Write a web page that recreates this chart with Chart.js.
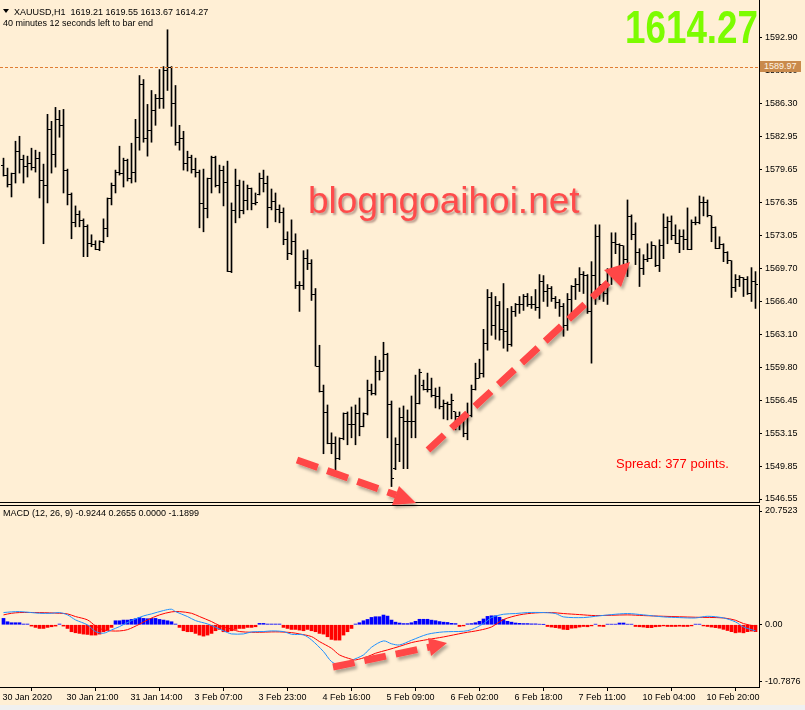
<!DOCTYPE html>
<html>
<head>
<meta charset="utf-8">
<script src="https://cdn.jsdelivr.net/npm/chart.js@4.4.0/dist/chart.umd.min.js"></script>
<style>
html, body { margin: 0; padding: 0; background: #f0f0f0; }
#wrap { position: relative; width: 805px; height: 710px; overflow: hidden; font-family: 'Liberation Sans', Arial, sans-serif; }
canvas { position: absolute; left: 0; background: #ffefd5; }
#priceChart { top: 0; }
#macdChart { top: 503px; }
.txt { position: absolute; white-space: nowrap; font-size: 9px; line-height: 11px; color: #000; }
#tri { position: absolute; left: 3px; top: 9px; width: 0; height: 0; border-left: 3px solid transparent; border-right: 3px solid transparent; border-top: 4px solid #000; }
#lvlBox { position: absolute; left: 760px; top: 61px; width: 41px; height: 11px; background: #c98a4c; color: #fff4e4; font-size: 9px; line-height: 11px; padding-left: 4px; box-sizing: border-box; }
#bigPrice { position: absolute; left: 625px; top: 4px; font-size: 46px; line-height: 46px; font-weight: bold; color: #7cfc00; transform: scaleX(0.8); transform-origin: left top; }
#mark { position: absolute; left: 308px; top: 182px; font-size: 37px; line-height: 37px; color: #ff4b4b; text-shadow: 2px 2px 2px rgba(110, 60, 60, 0.45); }
#spread { position: absolute; left: 616px; top: 457px; font-size: 13px; line-height: 13px; color: #ff0000; }
svg { position: absolute; left: 0; top: 0; pointer-events: none; }
</style>
</head>
<body>
<div id="wrap">
  <canvas id="priceChart" width="805" height="504"></canvas>
  <canvas id="macdChart" width="805" height="202"></canvas>

  <div id="tri"></div>
  <div class="txt" style="left:14px;top:7px;">XAUUSD,H1&nbsp; 1619.21 1619.55 1613.67 1614.27</div>
  <div class="txt" style="left:3px;top:18px;">40 minutes 12 seconds left to bar end</div>
  <div class="txt" style="left:3px;top:508px;">MACD (12, 26, 9) -0.9244 0.2655 0.0000 -1.1899</div>
  <div id="lvlBox">1589.97</div>
  <div id="bigPrice">1614.27</div>
  <div id="mark">blogngoaihoi.net</div>
  <div id="spread">Spread: 377 points.</div>

  <svg width="805" height="710">
    <defs>
      <filter id="sh" x="-20%" y="-20%" width="140%" height="140%">
        <feDropShadow dx="2" dy="3" stdDeviation="1.5" flood-color="#000" flood-opacity="0.3"/>
      </filter>
    </defs>
    <g filter="url(#sh)" stroke="#ff4646" fill="#ff4646">
      <line x1="297" y1="460" x2="396" y2="495" stroke-width="7" stroke-dasharray="22 10" fill="none"/>
      <polygon points="416,503 392,505 399,486" stroke="none"/>
      <line x1="428" y1="450" x2="612" y2="279" stroke-width="7" stroke-dasharray="22 10" fill="none"/>
      <polygon points="630,262 621,287 604,270" stroke="none"/>
      <line x1="333" y1="667" x2="430" y2="647" stroke-width="7" stroke-dasharray="22 10" fill="none"/>
      <polygon points="447,643 431,656 428,638" stroke="none"/>
    </g>
  </svg>
</div>

<script>
// ---------- data (H1 bars, left to right) ----------

const opens = [
  1580.1, 1579.1, 1578.2, 1579.3, 1581.5, 1580.7, 1580.0, 1580.3, 1579.9, 1580.8,
  1578.6, 1578.1, 1583.7, 1581.2, 1584.7, 1584.1, 1579.6, 1577.1, 1574.3, 1575.1,
  1574.5, 1573.9, 1572.2, 1572.1, 1571.6, 1572.4, 1573.7, 1576.7, 1578.1, 1579.4,
  1579.3, 1580.6, 1578.8, 1579.4, 1582.9, 1588.2, 1582.8, 1583.6, 1585.6, 1586.8,
  1586.8, 1589.6, 1589.9, 1586.3, 1582.4, 1582.8, 1580.3, 1580.9, 1579.7, 1579.4,
  1576.2, 1575.7, 1578.8, 1580.9, 1578.1, 1579.6, 1578.4, 1569.4, 1575.5, 1578.1,
  1575.5, 1576.5, 1577.7, 1576.2, 1577.1, 1578.8, 1578.3, 1575.8, 1576.4, 1575.6,
  1575.3, 1572.6, 1571.2, 1572.4, 1568.0, 1568.0, 1570.7, 1570.2, 1567.1, 1559.9,
  1557.4, 1555.2, 1552.1, 1552.1, 1550.6, 1552.6, 1555.1, 1554.0, 1554.0, 1555.1,
  1553.8, 1555.1, 1557.5, 1557.2, 1559.4, 1559.4, 1561.1, 1556.0, 1549.6, 1552.0,
  1554.7, 1554.3, 1554.3, 1554.3, 1556.1, 1558.0, 1557.6, 1557.6, 1557.0, 1556.9,
  1555.8, 1556.1, 1556.0, 1555.3, 1554.8, 1554.5, 1553.1, 1554.9, 1557.6, 1558.7,
  1559.2, 1562.2, 1566.8, 1564.0, 1566.0, 1563.6, 1563.4, 1562.1, 1565.4, 1566.1,
  1566.1, 1566.9, 1566.1, 1566.1, 1565.8, 1568.4, 1567.4, 1567.7, 1566.7, 1566.3,
  1565.9, 1564.0, 1566.6, 1567.9, 1568.1, 1569.1, 1569.0, 1565.4, 1569.0, 1572.9,
  1568.1, 1567.2, 1569.2, 1572.3, 1572.1, 1572.0, 1570.6, 1574.9, 1573.1, 1571.3,
  1569.7, 1570.6, 1570.7, 1572.0, 1570.0, 1572.0, 1573.8, 1574.4, 1573.0, 1572.2,
  1572.9, 1572.6, 1571.6, 1574.3, 1574.3, 1576.3, 1576.3, 1575.0, 1573.8, 1571.7,
  1572.1, 1571.3, 1570.5, 1567.8, 1568.6, 1568.8, 1568.6, 1567.2, 1568.4
];

const highs = [
  1580.8, 1579.8, 1579.3, 1582.5, 1583.0, 1581.1, 1581.0, 1581.8, 1581.6, 1581.4,
  1580.2, 1585.2, 1584.5, 1585.9, 1585.6, 1585.7, 1579.7, 1577.3, 1576.0, 1575.5,
  1574.7, 1574.1, 1573.1, 1572.5, 1572.5, 1574.7, 1576.8, 1578.3, 1579.6, 1582.0,
  1580.8, 1580.7, 1582.3, 1584.7, 1589.1, 1588.7, 1586.2, 1587.6, 1587.2, 1589.7,
  1590.0, 1593.7, 1590.0, 1588.1, 1584.1, 1583.5, 1581.5, 1581.1, 1580.8, 1579.6,
  1579.7, 1578.8, 1581.0, 1581.0, 1580.1, 1580.0, 1580.5, 1576.3, 1579.7, 1578.6,
  1578.5, 1578.1, 1577.8, 1577.3, 1579.3, 1579.6, 1579.0, 1577.7, 1577.3, 1576.1,
  1575.8, 1573.4, 1574.6, 1573.2, 1568.4, 1571.5, 1571.6, 1570.6, 1567.7, 1562.0,
  1558.0, 1556.0, 1553.2, 1552.8, 1552.7, 1555.2, 1555.3, 1555.8, 1556.0, 1556.7,
  1555.2, 1558.5, 1558.1, 1560.9, 1560.5, 1562.3, 1561.2, 1556.4, 1552.7, 1555.7,
  1555.9, 1555.5, 1556.9, 1559.0, 1559.6, 1558.5, 1559.2, 1558.7, 1557.7, 1557.8,
  1556.5, 1556.3, 1557.1, 1555.3, 1555.3, 1554.5, 1556.2, 1558.0, 1560.2, 1560.6,
  1563.6, 1567.6, 1567.3, 1566.9, 1566.4, 1568.2, 1565.7, 1565.9, 1566.2, 1566.9,
  1567.1, 1567.2, 1566.9, 1567.6, 1569.1, 1569.0, 1568.1, 1567.9, 1566.9, 1566.6,
  1566.2, 1567.2, 1568.0, 1568.7, 1569.8, 1569.4, 1569.1, 1570.4, 1574.1, 1574.1,
  1568.1, 1569.7, 1573.3, 1573.3, 1572.2, 1572.0, 1576.6, 1575.1, 1574.3, 1571.7,
  1571.1, 1572.2, 1572.4, 1572.0, 1572.6, 1575.2, 1574.9, 1575.0, 1574.1, 1573.6,
  1573.6, 1575.8, 1574.6, 1574.9, 1577.0, 1576.9, 1576.6, 1575.0, 1573.9, 1572.9,
  1572.2, 1571.4, 1570.5, 1569.1, 1569.0, 1568.8, 1568.9, 1569.8, 1569.4
];

const lows = [
  1579.0, 1577.9, 1576.9, 1578.3, 1579.3, 1578.3, 1578.9, 1579.6, 1579.4, 1576.8,
  1572.2, 1576.3, 1579.3, 1579.9, 1582.9, 1577.3, 1576.1, 1572.7, 1573.9, 1573.9,
  1570.9, 1570.9, 1571.9, 1571.6, 1571.5, 1572.3, 1572.9, 1576.1, 1577.3, 1579.1,
  1577.9, 1578.5, 1578.3, 1578.4, 1581.6, 1582.4, 1581.0, 1582.4, 1584.1, 1585.8,
  1585.8, 1587.6, 1584.0, 1582.1, 1581.6, 1579.6, 1579.5, 1579.3, 1578.9, 1573.8,
  1573.4, 1574.8, 1577.3, 1577.9, 1577.3, 1576.0, 1569.4, 1569.3, 1574.3, 1574.8,
  1575.2, 1575.6, 1575.6, 1576.1, 1577.1, 1577.4, 1573.8, 1575.6, 1574.4, 1574.3,
  1572.1, 1570.6, 1571.1, 1567.7, 1565.4, 1567.6, 1569.6, 1566.5, 1559.9, 1557.3,
  1551.1, 1552.1, 1551.1, 1549.5, 1550.5, 1552.5, 1552.0, 1552.7, 1552.0, 1552.9,
  1553.8, 1555.0, 1557.0, 1557.0, 1558.5, 1559.4, 1552.7, 1547.8, 1549.5, 1550.3,
  1549.6, 1549.6, 1552.7, 1552.7, 1556.1, 1557.5, 1557.3, 1556.8, 1555.7, 1555.6,
  1554.6, 1554.5, 1554.6, 1553.5, 1553.5, 1552.8, 1552.5, 1554.8, 1557.5, 1558.7,
  1558.8, 1561.5, 1563.0, 1562.6, 1562.5, 1561.7, 1561.4, 1561.9, 1564.9, 1565.2,
  1565.5, 1565.9, 1565.7, 1565.5, 1564.7, 1566.4, 1565.9, 1566.4, 1565.7, 1564.9,
  1562.9, 1563.5, 1565.0, 1566.6, 1567.4, 1567.2, 1565.2, 1560.2, 1566.1, 1566.6,
  1566.4, 1566.1, 1568.1, 1571.2, 1569.6, 1569.1, 1568.9, 1572.6, 1570.1, 1567.9,
  1569.1, 1570.4, 1570.7, 1569.9, 1569.4, 1570.7, 1572.2, 1572.6, 1572.2, 1571.3,
  1571.6, 1571.6, 1571.6, 1574.1, 1574.2, 1575.0, 1574.9, 1572.4, 1571.7, 1571.7,
  1570.4, 1570.2, 1566.8, 1567.4, 1567.9, 1566.9, 1567.1, 1566.4, 1565.7
];

const closes = [
  1579.1, 1578.2, 1579.3, 1581.5, 1580.7, 1580.0, 1580.3, 1579.9, 1580.8, 1578.6,
  1578.1, 1583.7, 1581.2, 1584.7, 1584.1, 1579.6, 1577.1, 1574.3, 1575.1, 1574.5,
  1573.9, 1572.2, 1572.1, 1571.6, 1572.4, 1573.7, 1576.7, 1578.1, 1579.4, 1579.3,
  1580.6, 1578.8, 1579.4, 1582.9, 1588.2, 1582.8, 1583.6, 1585.6, 1586.8, 1586.8,
  1589.6, 1589.9, 1586.3, 1582.4, 1582.8, 1580.3, 1580.9, 1579.7, 1579.4, 1576.2,
  1575.7, 1578.8, 1580.9, 1578.1, 1579.6, 1578.4, 1569.4, 1575.5, 1578.1, 1575.5,
  1576.5, 1577.7, 1576.2, 1576.3, 1578.8, 1578.3, 1575.8, 1576.4, 1575.6, 1575.3,
  1572.6, 1571.2, 1572.4, 1568.0, 1568.0, 1570.7, 1570.2, 1567.1, 1559.9, 1557.4,
  1555.2, 1552.1, 1552.1, 1550.6, 1552.6, 1555.1, 1554.0, 1554.0, 1555.1, 1553.8,
  1555.1, 1557.5, 1557.2, 1559.4, 1559.4, 1561.1, 1556.0, 1548.6, 1552.0, 1554.7,
  1554.3, 1554.3, 1554.3, 1556.1, 1559.3, 1557.6, 1557.6, 1557.0, 1556.9, 1555.8,
  1556.1, 1556.0, 1556.4, 1554.8, 1554.5, 1553.1, 1554.9, 1557.6, 1558.7, 1559.2,
  1562.2, 1566.8, 1564.0, 1566.0, 1563.6, 1563.4, 1562.1, 1565.4, 1566.1, 1566.1,
  1566.9, 1566.1, 1566.1, 1565.8, 1568.4, 1567.4, 1567.7, 1566.7, 1566.3, 1565.9,
  1564.0, 1566.6, 1567.9, 1568.1, 1569.1, 1569.0, 1565.4, 1569.0, 1572.9, 1568.1,
  1567.2, 1569.2, 1572.3, 1572.1, 1572.0, 1570.6, 1574.9, 1573.1, 1571.3, 1569.7,
  1570.6, 1570.7, 1572.0, 1570.0, 1572.0, 1573.8, 1574.4, 1573.0, 1572.2, 1572.9,
  1572.6, 1571.6, 1574.3, 1574.3, 1576.3, 1576.3, 1575.0, 1573.8, 1571.7, 1572.1,
  1571.3, 1570.5, 1567.8, 1568.6, 1568.8, 1568.6, 1567.2, 1568.4, 1568.1
];

// MACD histogram, one value per bar
const macdHist = [
  1.10, 0.52, 0.35, 0.35, 0.35, 0.12, 0.12, -0.23, -0.46, -0.64,
  -0.64, -0.46, -0.35, -0.23, 0.12, -0.23, -0.64, -1.21, -1.39, -1.50,
  -1.62, -1.68, -1.79, -1.79, -1.62, -1.21, -0.92, -0.46, 0.69, 0.69,
  0.81, 0.81, 0.92, 1.04, 1.27, 1.10, 1.04, 1.10, 1.10, 0.92,
  0.81, 0.69, 0.52, 0.12, -0.46, -1.04, -1.21, -1.21, -1.50, -1.79,
  -1.97, -1.79, -1.50, -1.04, -0.81, -1.21, -1.21, -1.04, -0.81, -0.64,
  -0.64, -0.46, -0.46, -0.35, 0.23, 0.23, 0.12, 0.12, 0.12, 0.12,
  -0.46, -0.64, -0.81, -0.81, -0.92, -1.04, -0.81, -1.04, -1.21, -1.50,
  -1.62, -2.08, -2.54, -2.66, -2.66, -1.79, -1.21, -0.64, 0.12, 0.35,
  0.69, 0.92, 1.27, 1.39, 1.39, 1.68, 1.50, 0.81, 0.45, 0.30,
  0.20, 0.20, 0.35, 0.60, 0.95, 0.95, 0.95, 0.80, 0.70, 0.55,
  0.45, 0.40, 0.25, 0.20, -0.30, -0.20, 0.15, 0.20, 0.35, 0.60,
  1.00, 1.45, 1.55, 1.55, 1.30, 0.90, 0.60, 0.45, 0.30, 0.25,
  0.20, 0.20, 0.15, 0.15, 0.10, 0.05, -0.30, -0.40, -0.50, -0.60,
  -0.80, -0.85, -0.60, -0.55, -0.40, -0.30, -0.35, -0.20, 0.10, -0.25,
  -0.30, 0.10, 0.10, 0.10, 0.30, 0.30, 0.10, 0.10, -0.30, -0.35,
  -0.40, -0.50, -0.50, -0.35, -0.30, -0.20, -0.30, -0.30, -0.30, -0.25,
  -0.30, -0.30, -0.20, 0.10, 0.10, -0.20, -0.30, -0.40, -0.50, -0.60,
  -0.80, -1.00, -1.20, -1.40, -1.30, -1.40, -1.20, -1.10, -1.20
];

// MACD main line (blue) and signal line (red): [bar, value]
const macdMain = [
  [0, 2.11], [2, 2.23], [4, 2.28], [7, 2.11], [9, 1.99], [12, 1.99], [14, 2.11], [16, 1.71],
  [18, 0.84], [21, -0.03], [23, -1.18], [25, -1.47], [27, -0.90], [29, -0.32], [32, 0.72],
  [35, 1.53], [37, 1.88], [40, 2.46], [42, 2.69], [43, 2.28], [46, 1.42], [48, 0.72],
  [51, 0.14], [53, -0.43], [56, -1.36], [57, -1.59], [60, -1.59], [62, -1.24], [65, -1.18],
  [67, -1.07], [70, -1.18], [72, -1.65], [75, -1.76], [77, -2.63], [80, -4.65], [82, -6.39],
  [84, -6.97], [86, -6.79], [87, -6.21], [90, -5.23], [92, -3.90], [95, -2.80], [97, -3.30],
  [99, -3.50], [102, -2.69], [106, -1.65], [110, -1.24], [115, -1.13], [117, -0.84],
  [120, 0.20], [122, 1.24], [125, 1.82], [128, 1.94], [131, 2.11], [135, 2.11], [138, 1.94],
  [140, 1.36], [145, 1.24], [148, 1.47], [152, 1.76], [156, 1.94], [160, 1.71], [165, 1.36],
  [169, 1.24], [173, 1.18], [176, 1.47], [180, 1.18], [183, 0.49], [185, -0.38], [188, -1.07]
];

const macdSignal = [
  [0, 1.71], [2, 1.99], [4, 2.11], [9, 2.11], [14, 1.99], [16, 1.88], [18, 1.42], [21, 0.84],
  [23, -0.20], [25, -0.90], [27, -1.07], [29, -1.07], [31, -0.85], [34, 0.10], [36, 0.84],
  [39, 1.71], [42, 2.23], [44, 2.28], [47, 1.99], [49, 1.42], [52, 0.55], [54, -0.14],
  [57, -0.78], [59, -1.18], [62, -1.30], [64, -1.30], [67, -1.24], [69, -1.24], [72, -1.36],
  [74, -1.59], [77, -2.05], [79, -2.92], [82, -4.08], [84, -5.23], [87, -5.98], [88, -6.10],
  [91, -5.52], [93, -4.94], [96, -4.36], [99, -3.75], [102, -3.09], [106, -2.57], [110, -2.11],
  [115, -1.42], [119, -0.95], [122, -0.38], [125, 0.90], [129, 1.71], [133, 2.05], [137, 2.11],
  [140, 1.94], [144, 1.76], [148, 1.59], [156, 1.71], [160, 1.59], [165, 1.47], [173, 1.30],
  [180, 1.18], [183, 0.78], [185, 0.20], [188, -0.26]
];

const priceTicks = [
  1546.55, 1549.85, 1553.15, 1556.45, 1559.80, 1563.10, 1566.40, 1569.70,
  1573.05, 1576.35, 1579.65, 1582.95, 1586.30, 1589.60, 1592.90
];
const macdTicks = [-10.7876, 0, 20.7523];

const dateTickBars = [-1, 15, 31, 47, 63, 79, 95, 111, 127, 143, 159, 175];
const dateTickLabels = [
  '30 Jan 2020', '30 Jan 21:00', '31 Jan 14:00', '3 Feb 07:00', '3 Feb 23:00', '4 Feb 16:00',
  '5 Feb 09:00', '6 Feb 02:00', '6 Feb 18:00', '7 Feb 11:00', '10 Feb 04:00', '10 Feb 20:00'
];

const markLevel = 1589.97;

// ---------- charts ----------

Chart.defaults.font.family = "'Liberation Sans', Arial, sans-serif";
Chart.defaults.font.size = 9;
Chart.defaults.color = '#000';

// visible bar window, 4 px per bar
const xMin = -0.875, xMax = 188.875;

const ohlcTicks = {
    id: 'ohlcTicks',
    afterDatasetsDraw(chart) {
        const ctx = chart.ctx;
        const y = chart.scales.y;
        const bars = chart.getDatasetMeta(0).data;
        ctx.save();
        ctx.fillStyle = '#000';
        bars.forEach((bar, i) => {
            const x = Math.round(bar.x - 0.5);
            ctx.fillRect(x - 2, Math.floor(y.getPixelForValue(opens[i])), 2, 1);
            ctx.fillRect(x + 1, Math.floor(y.getPixelForValue(closes[i])), 2, 1);
        });
        ctx.restore();
    }
};

const levelLine = {
    id: 'levelLine',
    afterDatasetsDraw(chart) {
        const { ctx, chartArea: a, scales: { y } } = chart;
        const py = Math.round(y.getPixelForValue(markLevel)) + 0.5;
        ctx.save();
        ctx.strokeStyle = '#e07d33';
        ctx.lineWidth = 1;
        ctx.setLineDash([3, 2]);
        ctx.beginPath();
        ctx.moveTo(a.left, py);
        ctx.lineTo(a.right, py);
        ctx.stroke();
        ctx.restore();
    }
};

const paneTop = {
    id: 'paneTop',
    afterDraw(chart) {
        const { ctx, chartArea: a } = chart;
        ctx.save();
        ctx.fillStyle = '#000';
        ctx.fillRect(0, a.top, a.right + 1, 1);
        ctx.restore();
    }
};

function noPad(s) {
    s.paddingTop = 0; s.paddingBottom = 0; s.paddingLeft = 0; s.paddingRight = 0;
}

new Chart(document.getElementById('priceChart'), {
    type: 'bar',
    data: {
        datasets: [{
            data: highs.map((h, i) => ({ x: i, y: [lows[i], h] })),
            backgroundColor: '#000',
            borderWidth: 0,
            barThickness: 1
        }]
    },
    options: {
        responsive: false,
        animation: false,
        events: [],
        layout: { padding: 0 },
        plugins: { legend: { display: false }, tooltip: { enabled: false } },
        scales: {
            x: {
                type: 'linear', min: xMin, max: xMax, offset: false,
                ticks: { display: false },
                grid: { display: false },
                border: { display: true, color: '#000' },
                afterFit: s => { s.height = 2; noPad(s); }
            },
            y: {
                position: 'right', min: 1546.25, max: 1596.69, beginAtZero: false,
                afterBuildTicks: s => { s.ticks = priceTicks.map(v => ({ value: v })); },
                ticks: { callback: v => v.toFixed(2), padding: 3, color: '#000' },
                grid: { drawOnChartArea: false, tickLength: 3, color: '#000' },
                border: { color: '#000' },
                afterFit: s => { s.width = 46; noPad(s); }
            }
        }
    },
    plugins: [levelLine, ohlcTicks]
});

new Chart(document.getElementById('macdChart'), {
    type: 'bar',
    data: {
        datasets: [
            {
                type: 'line',
                data: macdMain.map(p => ({ x: p[0], y: p[1] })),
                borderColor: '#1e90ff', borderWidth: 1, pointRadius: 0, tension: 0.3
            },
            {
                type: 'line',
                data: macdSignal.map(p => ({ x: p[0], y: p[1] })),
                borderColor: '#ff0000', borderWidth: 1, pointRadius: 0, tension: 0.3
            },
            {
                type: 'bar',
                data: macdHist.map((v, i) => ({ x: i, y: v })),
                backgroundColor: c => (c.raw && c.raw.y >= 0) ? '#0000ff' : '#ff0000',
                borderWidth: 0,
                barThickness: 3
            }
        ]
    },
    options: {
        responsive: false,
        animation: false,
        events: [],
        layout: { padding: { top: 2 } },
        plugins: { legend: { display: false }, tooltip: { enabled: false } },
        scales: {
            x: {
                type: 'linear', min: xMin, max: xMax, offset: false,
                afterBuildTicks: s => { s.ticks = dateTickBars.map(v => ({ value: v })); },
                ticks: {
                    autoSkip: false, maxRotation: 0, align: 'start', labelOffset: 3, padding: 1,
                    callback: (v, i) => dateTickLabels[i]
                },
                grid: { drawOnChartArea: false, tickLength: 4, color: '#000' },
                border: { color: '#000' },
                afterFit: s => { s.height = 18; noPad(s); }
            },
            y: {
                position: 'right', min: -10.7876, max: 20.7523, beginAtZero: false,
                // extreme labels sit just inside the pane, as the terminal draws them
                afterBuildTicks: s => {
                    s.ticks = macdTicks.map(v => ({ value: v > 0 ? v - 1.04 : (v < 0 ? v + 0.95 : v) }));
                },
                ticks: {
                    padding: 3, color: '#000',
                    callback: (v, i) => macdTicks[i] === 0 ? '0.00' : macdTicks[i].toFixed(4)
                },
                grid: { drawOnChartArea: false, tickLength: 3, color: '#000' },
                border: { color: '#000' },
                afterFit: s => { s.width = 46; noPad(s); }
            }
        }
    },
    plugins: [paneTop]
});
</script>
</body>
</html>
